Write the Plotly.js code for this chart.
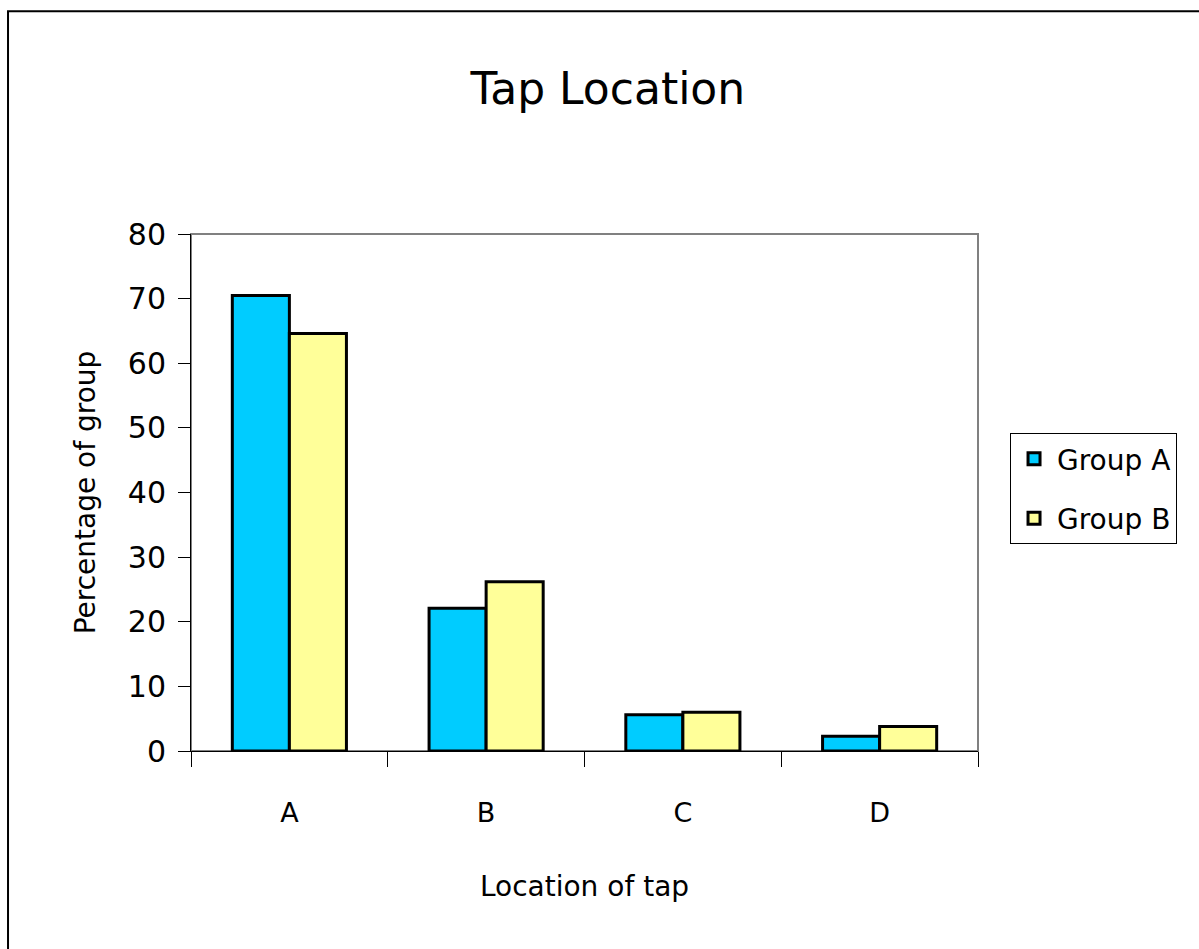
<!DOCTYPE html>
<html>
<head>
<meta charset="utf-8">
<script src="https://cdn.plot.ly/plotly-3.0.1.min.js"></script>
<style>html,body{margin:0;padding:0;background:#fff;}#chart{width:1199px;height:949px;}</style>
</head>
<body>
<div id="chart"></div>
<script>
const categories = ["A", "B", "C", "D"];
const groupA = [70.5, 22.1, 5.6, 2.3];
const groupB = [64.6, 26.2, 6.0, 3.8];
const seriesNames = ["Group A", "Group B"];

const FONT = "'Comic Sans MS', 'DejaVu Sans', sans-serif";

const traces = [
  {type: "bar", name: seriesNames[0], x: categories, y: groupA, legendgroup: "a",
   marker: {color: "#00CCFF", line: {color: "#000000", width: 3}}},
  {type: "bar", name: seriesNames[1], x: categories, y: groupB, legendgroup: "b",
   marker: {color: "#FFFF99", line: {color: "#000000", width: 3}}}
];

const layout = {
  width: 1199, height: 949,
  margin: {l: 191, r: 221, t: 234, b: 198},
  paper_bgcolor: "#ffffff", plot_bgcolor: "#ffffff",
  font: {family: FONT, color: "#000000"},
  barmode: "group", bargap: 0.42, bargroupgap: 0,
  title: {text: "Tap Location", font: {size: 44, family: FONT}, x: 0.507, xanchor: "center", y: 0.907, yanchor: "middle", xref: "container", yref: "container"},
  showlegend: true,
  legend: {x: 1.0407, xanchor: "left", y: 0.615, yanchor: "top", bordercolor: "#000000", borderwidth: 1,
           font: {size: 28, family: FONT}, bgcolor: "#ffffff", traceorder: "grouped", tracegroupgap: 20, itemwidth: 36},
  xaxis: {type: "category", showgrid: false, tickson: "boundaries", ticks: "outside", ticklen: 15, tickcolor: "#000000",
          showline: true, linecolor: "#000000", linewidth: 1, tickfont: {size: 27, family: FONT},
          ticklabelstandoff: 38,
          title: {text: "Location of tap", font: {size: 28, family: FONT}, standoff: 48}},
  yaxis: {range: [0, 80], dtick: 10, showgrid: false, zeroline: false, ticks: "outside", ticklen: 12, tickcolor: "#000000",
          showline: true, linecolor: "#000000", linewidth: 1, tickfont: {size: 30, family: FONT},
          ticklabelstandoff: 6,
          title: {text: "Percentage of group", font: {size: 28, family: FONT}, standoff: 24}},
  shapes: [
    {type: "rect", xref: "paper", yref: "paper", x0: 0, x1: 1, y0: 0, y1: 1,
     line: {color: "#808080", width: 2}, layer: "below"},
    {type: "rect", xref: "paper", yref: "paper", x0: -0.2325, x1: 1.35, y0: -0.5, y1: 1.431,
     line: {color: "#000000", width: 2}, fillcolor: "rgba(0,0,0,0)"}
  ]
};

Plotly.newPlot("chart", traces, layout, {displayModeBar: false, staticPlot: true});
</script>
</body>
</html>
